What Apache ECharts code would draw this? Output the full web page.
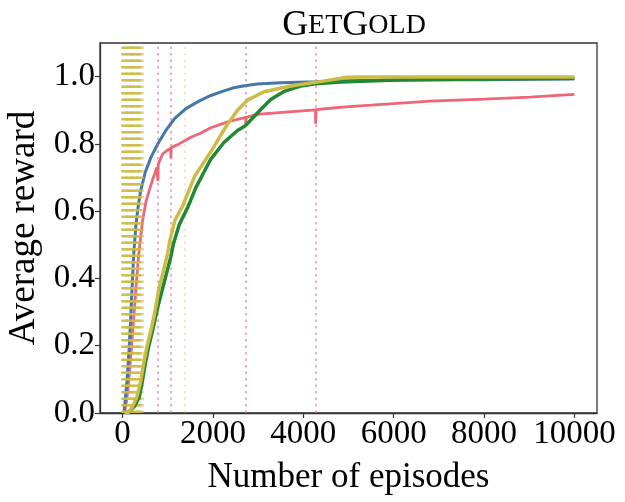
<!DOCTYPE html>
<html>
<head>
<meta charset="utf-8">
<script src="https://cdn.jsdelivr.net/npm/echarts@6/dist/echarts.min.js"></script>
<style>
  html, body { margin: 0; padding: 0; background: #fff; }
  #chart { width: 625px; height: 502px; }
</style>
</head>
<body>
<div id="chart"></div>
<script>
// curves, [episodes, average reward]
const blue = [[30,0],[60,0.04],[100,0.1],[140,0.18],[175,0.27],[210,0.37],[245,0.47],[296,0.56],[350,0.62],[406,0.665],[500,0.715],[627,0.76],[800,0.805],[958,0.84],[1150,0.875],[1400,0.905],[1700,0.928],[1953,0.944],[2211,0.956],[2432,0.966],[2700,0.973],[2984,0.978],[3500,0.982],[4272,0.985],[5000,0.988],[6000,0.99],[7000,0.991],[8000,0.991],[9000,0.992],[10000,0.993]];
const red = [[40,0],[80,0.03],[120,0.07],[157,0.13],[200,0.2],[245,0.28],[300,0.38],[355,0.47],[392,0.513],[443,0.573],[520,0.63],[590,0.662],[680,0.7],[760,0.73],[782,0.735],[782,0.69],[790,0.74],[885,0.77],[1000,0.782],[1069,0.787],[1069,0.757],[1075,0.789],[1250,0.8],[1510,0.82],[1700,0.83],[1953,0.848],[2359,0.867],[2726,0.879],[2726,0.855],[2735,0.879],[2984,0.888],[3462,0.893],[4272,0.901],[4272,0.86],[4280,0.902],[4602,0.906],[4935,0.91],[5500,0.915],[6811,0.927],[8000,0.933],[9020,0.939],[10000,0.947]];
const yellow = [[40,0],[141,0.003],[222,0.019],[318,0.048],[406,0.098],[465,0.147],[539,0.197],[627,0.246],[700,0.29],[760,0.335],[811,0.375],[900,0.42],[996,0.474],[1047,0.513],[1157,0.573],[1327,0.615],[1600,0.705],[1970,0.78],[2280,0.85],[2543,0.9],[2763,0.93],[3130,0.955],[3720,0.972],[4272,0.983],[4600,0.99],[4972,0.998],[5500,0.999],[7000,0.999],[10000,0.999]];
const green = [[75,0],[150,0.005],[259,0.019],[370,0.048],[443,0.098],[502,0.147],[576,0.197],[665,0.246],[797,0.325],[885,0.37],[1069,0.465],[1120,0.5],[1253,0.56],[1438,0.61],[1621,0.67],[1953,0.755],[2248,0.805],[2543,0.84],[2726,0.855],[2984,0.892],[3278,0.932],[3572,0.956],[3941,0.972],[4272,0.979],[4824,0.984],[6077,0.99],[8000,0.993],[10000,0.995]];

// vertical dotted markers
const pinkMarks = [782, 1069, 2726, 4272];
const yellowBand = [0, 35, 70, 105, 140, 175, 210, 245, 280, 315, 350, 385];
const yellowMarks = [450];
const paleMarks = [1378];

const xTicks = [0, 2000, 4000, 6000, 8000, 10000];
const yTicks = [0, 0.2, 0.4, 0.6, 0.8, 1.0];

const serif = "'Liberation Serif', 'DejaVu Serif', serif";

function vlines(xs, color, opacity, w) {
  return xs.map(function (x) {
    return { xAxis: x, lineStyle: { color: color, opacity: opacity, width: w, type: [2.5, 4] } };
  });
}

function curve(data, color, width, z) {
  return {
    type: 'line', data: data, showSymbol: false, symbol: 'none', z: z,
    lineStyle: { color: color, width: width }, animation: false
  };
}

var chart = echarts.init(document.getElementById('chart'));

chart.setOption({
  backgroundColor: '#fff',
  animation: false,
  title: {
    text: '{b|G}{s|ET}{b|G}{s|OLD}',
    left: 349, top: 3, textAlign: 'center',
    textStyle: {
      fontWeight: 'normal',
      rich: {
        b: { fontFamily: serif, fontSize: 36, fontWeight: 'normal', color: '#000' },
        s: { fontFamily: serif, fontSize: 28, fontWeight: 'normal', color: '#000' }
      }
    }
  },
  grid: {
    left: 100, right: 28, top: 43, bottom: 89, containLabel: false, outerBoundsMode: 'none',
    show: true, borderColor: '#333', borderWidth: 1.3, backgroundColor: 'transparent'
  },
  xAxis: {
    type: 'value', min: -500, max: 10500,
    name: 'Number of episodes', nameLocation: 'middle', nameGap: 47,
    nameTextStyle: { fontFamily: serif, fontSize: 35, color: '#000' },
    axisLine: { show: true, onZero: false, lineStyle: { color: '#333', width: 1.3 } },
    axisTick: { show: true, inside: false, length: 5, lineStyle: { color: '#333', width: 1.2 }, customValues: xTicks },
    axisLabel: {
      customValues: xTicks, fontFamily: serif, fontSize: 33, color: '#000', margin: 5,
      formatter: function (v) { return String(v); }
    },
    splitLine: { show: false }
  },
  yAxis: {
    type: 'value', min: 0, max: 1.1,
    name: 'Average reward', nameLocation: 'middle', nameGap: 57, nameRotate: 90,
    nameTextStyle: { fontFamily: serif, fontSize: 37, color: '#000' },
    axisLine: { show: true, onZero: false, lineStyle: { color: '#333', width: 1.3 } },
    axisTick: { show: true, inside: false, length: 5, lineStyle: { color: '#333', width: 1.2 }, customValues: yTicks },
    axisLabel: {
      customValues: yTicks, fontFamily: serif, fontSize: 33, color: '#000', margin: 5,
      formatter: function (v) { return v.toFixed(1); }
    },
    splitLine: { show: false }
  },
  series: [
    {
      type: 'line', data: [], z: 1, silent: true,
      markLine: {
        symbol: ['none', 'none'], silent: true, animation: false,
        label: { show: false },
        data: []
          .concat(vlines(yellowBand, '#CCBB44', 0.95, 2.5))
          .concat(vlines(yellowMarks, '#CCBB44', 0.55, 2))
          .concat(vlines(paleMarks, '#CCBB44', 0.3, 2))
          .concat(vlines(pinkMarks, '#EE6677', 0.55, 2))
      }
    },
    curve(red, '#EE6677', 2.8, 3),
    curve(blue, '#4477AA', 3, 4),
    curve(green, '#228833', 3.5, 5),
    curve(yellow, '#CCBB44', 3.5, 6)
  ]
});
</script>
</body>
</html>
